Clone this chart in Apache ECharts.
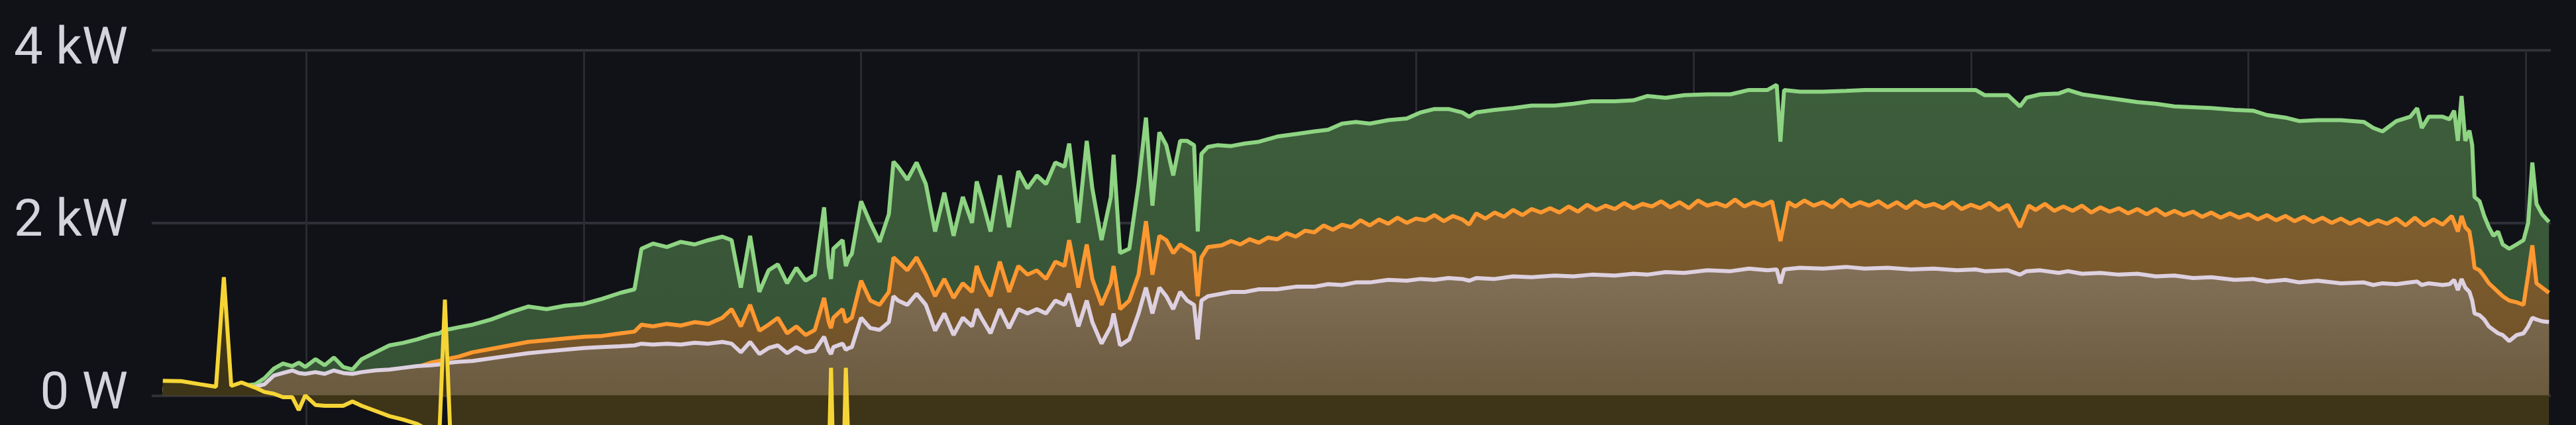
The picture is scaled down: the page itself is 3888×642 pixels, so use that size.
<!DOCTYPE html>
<html><head><meta charset="utf-8">
<script src="https://cdn.jsdelivr.net/npm/echarts@6/dist/echarts.min.js"></script>
<style>html,body{margin:0;padding:0;background:#111217;overflow:hidden}#c{width:3888px;height:642px}</style>
</head><body><div id="c"></div>
<script>
// time of each sample, minutes after midnight (PV total and string 2)
const minutes = [
329,333,337,340.5,342.2,343.8,346,349,351,353,355,357,358.4,359.8,362,364,366,368,370,372,375,378,381,384,387,388.8,390,391.2,393,396,400,404,408,412,416,420,424,428,431,432.5,435,438,441,444,447,450,
452,454,456,458,460,462,464,466,468,470,472,473,473.5,474,476,476.7,477.4,478,480,482,484,486,487,488,490,492,494,496,498,500,502,504,505,506,508,510,512,514,516,518,520,522,524,525,527,528.8,530,532,534,534.6,536,538,540,541.6,
543,544.5,546,547.5,549,550.5,552,552.8,553.6,555,
557,560,563,566,570,574,578,581,584,587,
590,594,598,601,604,607,610,611.5,613,617,
621,625,630,634,638,643,647,650,654,658,
663,668,672,676,678,678.8,679.6,683,688,693,
697,702,707,712,717,721,723,728,730.6,732,
735,739,741,744,748,752,756,760,764,768,
772,777,781,784,788,791,795,800,805,807,
809,812,815,816.5,817.5,819,822,823.5,824.5,825.3,
826.1,826.9,827.8,828.4,828.9,830,831,832,833,834,
835,836.4,838,839.5,840.5,841.4,842.3,843.5,845
];
// watts
const green = [
80,90,95,95,100,100,110,130,200,310,370,340,380,330,420,350,440,330,300,420,500,580,610,650,700,720,760,770,790,820,880,960,1030,1000,1040,1060,1120,1190,1230,1700,1760,1720,1780,1750,1800,1840,
1800,1250,1850,1200,1450,1520,1300,1480,1330,1400,2180,1500,1350,1700,1800,1500,1600,1640,2250,2000,1780,2100,2710,2650,2500,2700,2450,1900,2350,1850,2300,2000,2480,2300,1900,2550,1950,2600,2400,2550,2450,2700,2650,2920,2000,2950,2400,1800,2300,2790,1650,1700,2450,3220,
2200,3050,2900,2550,2950,2950,2900,1900,2800,2880,
2900,2890,2920,2940,3000,3030,3060,3080,3150,3170,
3150,3190,3210,3280,3320,3320,3280,3230,3280,3310,
3330,3360,3360,3380,3410,3410,3420,3470,3450,3480,
3490,3490,3540,3540,3600,2940,3540,3520,3520,3530,
3540,3540,3540,3540,3540,3540,3480,3480,3350,3450,
3490,3500,3540,3490,3460,3430,3400,3380,3350,3340,
3330,3310,3300,3250,3220,3180,3190,3190,3170,3100,
3060,3180,3230,3330,3100,3230,3230,3200,3300,2950,
3470,2950,3070,2900,2300,2250,2080,1950,1850,1900,
1750,1700,1750,1800,2000,2700,2220,2100,2010
];
const grey = [
70,70,75,75,80,80,85,100,130,230,260,290,260,250,270,250,290,260,250,270,290,300,320,340,350,360,370,380,390,400,430,460,490,510,530,550,560,570,580,600,590,600,590,610,600,620,
600,500,620,480,550,580,490,560,500,520,680,520,480,560,600,530,550,560,900,780,760,850,1150,1100,1050,1180,1050,750,950,700,900,800,1000,900,720,1000,780,1000,950,1000,950,1100,1050,1180,800,1100,850,600,800,950,580,650,950,1250,
950,1250,1150,1000,1200,1100,1050,650,1100,1150,
1170,1200,1200,1230,1230,1260,1260,1290,1280,1310,
1310,1340,1330,1350,1340,1360,1350,1330,1360,1350,
1380,1370,1390,1380,1400,1390,1410,1400,1430,1420,
1450,1440,1470,1450,1460,1300,1460,1480,1470,1490,
1470,1480,1460,1470,1450,1460,1440,1450,1400,1440,
1450,1420,1440,1410,1420,1400,1410,1380,1390,1360,
1370,1340,1350,1320,1340,1310,1330,1300,1310,1280,
1300,1290,1310,1320,1280,1300,1280,1290,1340,1220,
1350,1250,1200,1100,950,930,880,800,760,720,
700,630,700,720,800,900,880,860,850
];
// string 1 has its own, denser sample times
const orangeMinutes = [
329,333,337,340.5,342.2,343.8,346,349,351,353,355,357,358.4,359.8,362,364,366,368,370,372,375,378,381,384,387,388.8,390,391.2,393,396,400,404,408,412,416,420,424,428,431,432.5,435,438,441,444,447,450,
452,454,456,458,460,462,464,466,468,470,472,473,473.5,474,476,476.7,477.4,478,480,482,484,486,487,488,490,492,494,496,498,500,502,504,505,506,508,510,512,514,516,518,520,522,524,525,527,528.8,530,532,534,534.6,536,538,540,541.6,
543,544.5,546,547.5,549,550.5,552,552.8,553.6,555,
558,560,562,564,566,568,570,572,574,576,578,580,582,584,586,588,590,592,594,596,598,600,602,604,606,608,610,611.5,613,615,
617,619,621,623,625,627,629,631,633,635,637,639,641,643,645,647,649,651,653,655,657,659,661,663,665,667,669,671,673,675,677,678.8,
680.5,682,684,686,688,690,692,694,696,698,700,702,704,706,708,710,712,714,716,718,720,722,724,726,728,730.6,
732.5,734,736,738,740,742,744,746,748,750,752,754,756,758,760,762,764,766,768,770,772,774,776,778,780,
782,784,786,788,790,792,794,796,798,800,802,804,806,808,810,812,814,816,818,820,822,824,825.3,826.1,826.9,827.8,828.4,828.9,
830,831,832,833,834,835,836.4,838,839.5,840.5,841.4,842.3,843.5,845
];
const orange = [
60,60,65,65,65,70,70,75,80,150,170,180,190,185,200,200,210,210,220,230,260,280,300,330,380,400,420,430,450,500,540,580,620,640,660,680,690,720,740,820,800,830,810,850,830,900,
1000,800,1050,750,820,900,720,800,700,760,1130,850,780,900,1000,850,880,900,1330,1100,1050,1200,1600,1550,1450,1600,1400,1150,1350,1130,1300,1200,1500,1350,1150,1550,1200,1500,1400,1450,1350,1550,1500,1800,1250,1750,1350,1050,1300,1500,1000,1100,1400,2020,
1400,1850,1800,1650,1750,1700,1650,1150,1600,1720,
1740,1790,1750,1810,1770,1830,1810,1880,1840,1910,1890,1970,1920,1980,1950,2030,1970,2040,1990,2060,2000,2050,2030,2090,2020,2080,2040,1980,2110,2050,
2120,2070,2150,2090,2160,2120,2170,2120,2190,2130,2210,2150,2200,2160,2230,2170,2220,2190,2250,2180,2240,2170,2260,2200,2230,2190,2270,2190,2240,2200,2250,1790,
2240,2190,2260,2200,2240,2180,2270,2190,2240,2200,2250,2180,2240,2170,2250,2190,2220,2170,2240,2160,2210,2170,2230,2150,2210,1950,
2200,2150,2220,2140,2190,2140,2200,2120,2180,2130,2170,2110,2160,2100,2160,2090,2140,2090,2130,2070,2120,2060,2110,2060,2100,
2040,2090,2030,2080,2020,2070,2010,2060,2000,2050,1990,2040,1980,2030,1990,2050,1970,2060,1970,2040,1980,2080,1900,2080,1950,1900,1700,1480,
1450,1380,1300,1250,1200,1150,1100,1080,1050,1400,1740,1300,1250,1190
];
// grid power has its own sample times
const yellowMinutes = [329,333,337,340.5,342.2,343.8,346,349,351,353,355,357,358.4,359.8,362,364,366,368,370,372,375,378,381,384,387,388.8,390,391.2,393,396,400,404,473,473.5,474,476.2,476.7,477.4,560,650,750,845];
const yellow = [170,165,130,100,1370,110,150,90,40,20,-20,-20,-170,0,-110,-120,-120,-120,-70,-120,-180,-240,-280,-330,-420,-450,1110,-500,-650,-700,-750,-800,-800,320,-800,-800,320,-800,-820,-850,-830,-800];
const yTickValues = [-2000, 0, 2000, 4000];

const day = Date.UTC(2024, 5, 21);
const toT = m => day + m * 60000;
const pair = (ts, vs) => ts.map((m, i) => [toT(m), vs[i]]);

function grad(c1, c2) {
  return new echarts.graphic.LinearGradient(0, 0, 0, 1, [
    { offset: 0, color: c1 }, { offset: 1, color: c2 }
  ]);
}
function line(name, data, color, c1, c2, z) {
  return {
    name, type: 'line', data, symbol: 'none', showSymbol: false, smooth: false,
    sampling: null, z, clip: true,
    lineStyle: { color, width: 6 },
    areaStyle: { color: grad(c1, c2), opacity: 1 }
  };
}

const chart = echarts.init(document.getElementById('c'), null, { renderer: 'canvas' });
chart.setOption({
  backgroundColor: '#111217',
  useUTC: true,
  animation: false,
  grid: { left: 229, right: 38, top: 76, bottom: -216, containLabel: false, outerBoundsMode: 'none' },
  xAxis: {
    type: 'time',
    min: toT(326.6), max: toT(845.4),
    minInterval: 3600000, maxInterval: 3600000,
    axisLine: { show: false }, axisTick: { show: false }, axisLabel: { show: false },
    splitLine: { show: true, showMinLine: false, showMaxLine: false, lineStyle: { color: '#2a2b31', width: 3 } }
  },
  yAxis: {
    type: 'value', min: yTickValues[0], max: yTickValues[yTickValues.length - 1], interval: 2000,
    axisLine: { show: false }, axisTick: { show: false },
    axisLabel: {
      color: '#d4d4dc', fontSize: 78, fontFamily: 'Roboto', margin: 36, padding: [0, 0, 18, 0],
      formatter: v => v === 0 ? '0 W' : (v / 1000) + ' kW'
    },
    splitLine: { lineStyle: { color: '#303137', width: 4 } }
  },
  series: [
    line('PV', pair(minutes, green), '#8ed483', '#3d5e3b', '#365236', 2),
    line('String 1', pair(orangeMinutes, orange), '#ff9830', '#805f2f', '#6e5028', 3),
    line('String 2', pair(minutes, grey), '#ddd0e0', '#837058', '#6a5a3e', 4),
    line('Grid', pair(yellowMinutes, yellow), '#f5d536', '#3e3417', '#3e3417', 5)
  ]
});
</script>
</body></html>
